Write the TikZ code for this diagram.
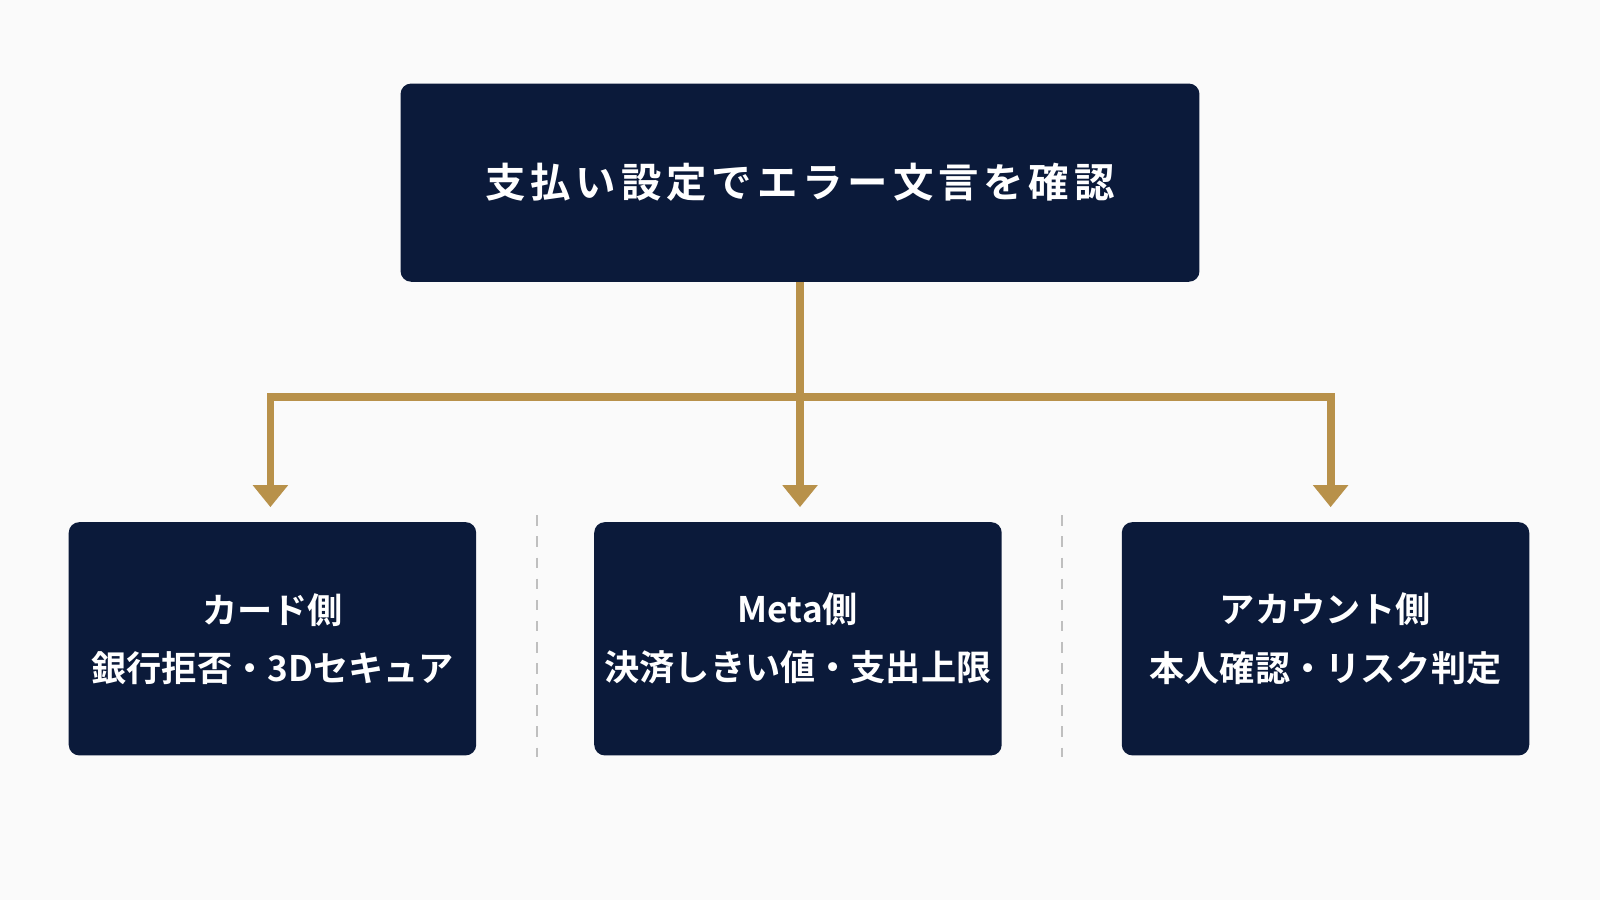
\documentclass[tikz,border=0pt]{standalone}
\usepackage{fontspec}
\setmainfont{Noto Sans CJK JP}[BoldFont={Noto Sans CJK JP Bold}]
\newfontfamily\spaced{Noto Sans CJK JP Bold}[LetterSpace=12]
\usetikzlibrary{arrows.meta, positioning}
\definecolor{navy}{HTML}{0B1A3A}
\definecolor{gold}{HTML}{B8914A}
\definecolor{paper}{HTML}{FAFAFA}
\tikzset{
  box/.style={fill=navy, text=white, rounded corners=3pt, font=\bfseries, align=center, inner sep=0pt},
  leaf/.style={box, text width=4.07cm, minimum height=2.33cm, font=\bfseries\fontsize{10}{16.5}\selectfont},
  link/.style={draw=gold, line width=2.2pt, -{Triangle[length=0.22cm, width=0.34cm]}},
  sep/.style={draw=gray!50, dashed, line width=0.6pt}
}
\begin{document}
\begin{tikzpicture}[x=0.0102cm, y=-0.0102cm]
        \fill[paper] (0,0) rectangle (1568,882);
        \useasboundingbox (0,0) rectangle (1568,882);
        \node[box, minimum width=7.98cm, minimum height=1.98cm, font=\spaced\fontsize{11.5}{14}\selectfont] (top) at (784,179) {支払い設定でエラー文言を確認};
        \node[leaf] (card) at (267,626) {カード側\\銀行拒否‧3Dセキュア};
        \node[leaf] (meta) at (782,626) {Meta側\\決済しきい値‧支出上限};
        \node[leaf] (acct) at (1299,626) {アカウント側\\本人確認‧リスク判定};
        \coordinate (hub) at (784,389);
        \coordinate (tipA) at (265,497);
        \coordinate (tipB) at (784,497);
        \coordinate (tipC) at (1304,497);

        \draw[gold, line width=2.2pt] (top.south) -- (hub);
        \draw[link] (hub) -| (tipA);
        \draw[link] (hub) -- (tipB);
        \draw[link] (hub) -| (tipC);

        \draw[sep] (526,505) -- (526,742);
        \draw[sep] (1041,505) -- (1041,742);
    \end{tikzpicture}
\end{document}
